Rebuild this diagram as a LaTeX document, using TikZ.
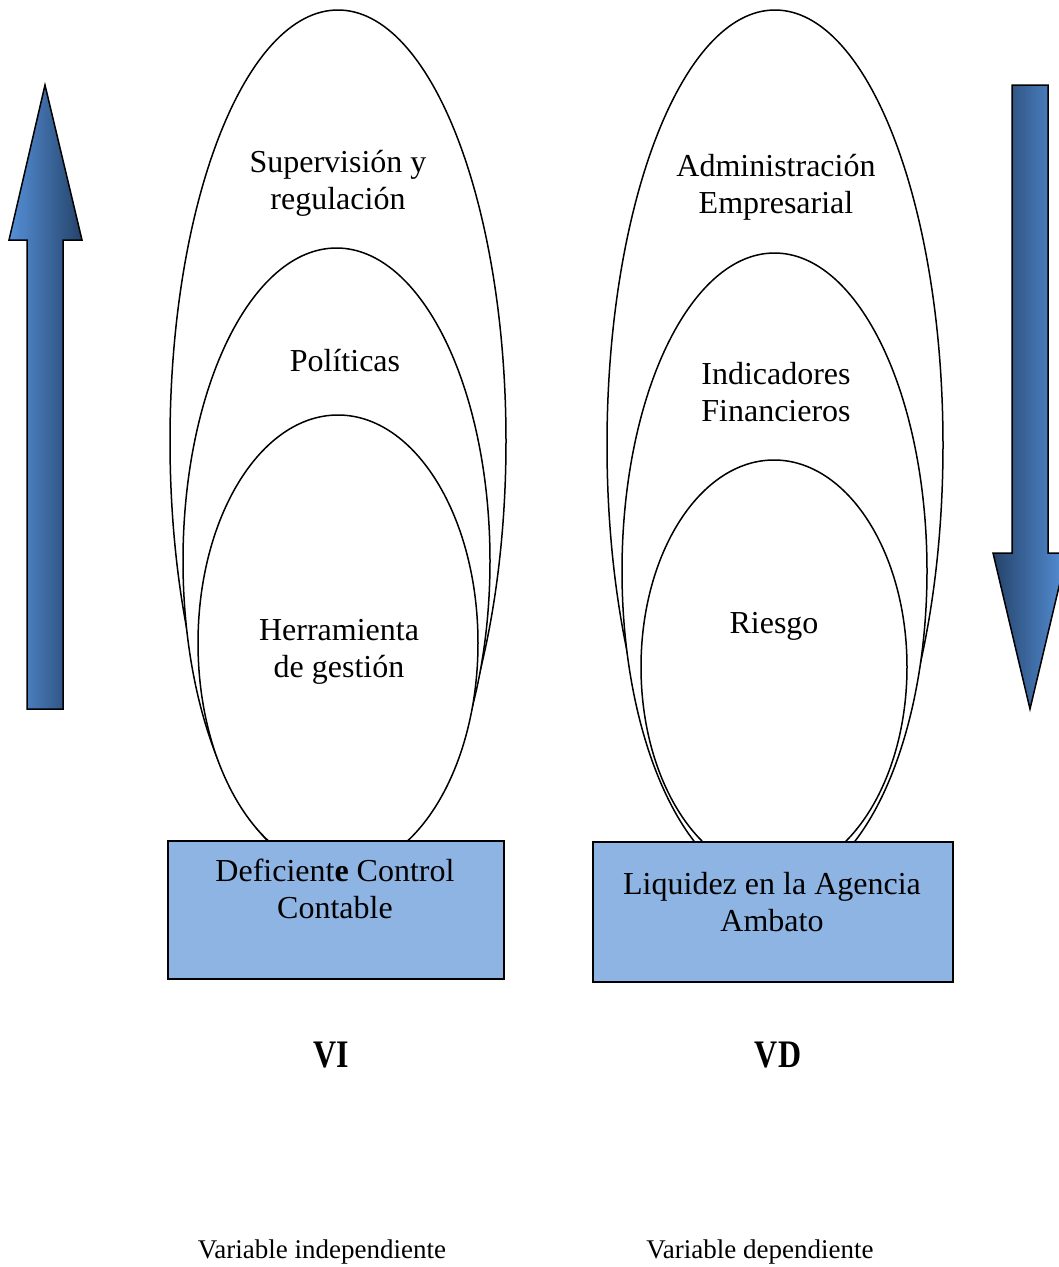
\documentclass[tikz,border=0pt]{standalone}
\usepackage{fontspec}
\setmainfont{Liberation Serif}
\usetikzlibrary{shapes.geometric}
\definecolor{boxblue}{HTML}{8EB4E3}
\definecolor{arrowlight}{HTML}{5590D8}
\definecolor{arrowdark}{HTML}{25436A}
\begin{document}
\begin{tikzpicture}[x=1pt,y=-1pt,
  oval/.style={ellipse,draw=black,line width=1.5pt,fill=white,inner sep=0pt},
  varbox/.style={draw=black,line width=1.7pt,fill=boxblue,inner sep=0pt,anchor=north west},
  label/.style={align=center,font=\fontsize{32}{37}\selectfont,inner sep=0pt},
  tag/.style={font=\bfseries\fontsize{39}{40}\selectfont,inner sep=0pt,xscale=0.82},
  caption/.style={font=\fontsize{27}{30}\selectfont,inner sep=0pt}]
\clip (0,0) rectangle (1059,1267);
\fill[white] (0,0) rectangle (1059,1267);

% direction arrows
\shadedraw[left color=arrowlight,right color=arrowdark,draw=black,line width=1.5pt]
  (27,709) -- (27,240) -- (9,240) -- (45,85) -- (82,240) -- (63,240) -- (63,709) -- cycle;
\shadedraw[left color=arrowdark,right color=arrowlight,draw=black,line width=1.5pt]
  (1012,85) -- (1048,85) -- (1048,553) -- (1067,553) -- (1030,709) -- (993,553) -- (1012,553) -- cycle;

% independent variable: nested ovals
\node[oval,minimum width=336pt,minimum height=862pt] (li1) at (338,441) {};
\node[oval,minimum width=307pt,minimum height=626pt] (li2) at (336.5,561) {};
\node[oval,minimum width=280pt,minimum height=456pt] (li3) at (338,643) {};

% dependent variable: nested ovals
\node[oval,minimum width=336pt,minimum height=870pt] (ri1) at (775,445) {};
\node[oval,minimum width=305pt,minimum height=636pt] (ri2) at (774.5,571) {};
\node[oval,minimum width=266pt,minimum height=414pt] (ri3) at (774,667) {};

% base boxes
\node[varbox,minimum width=336pt,minimum height=138pt] (lbox) at (167,840) {};
\node[varbox,minimum width=360pt,minimum height=140pt] (rbox) at (592,841) {};

% labels inside the ovals
\node[label] (t1) at (338,183) {Supervisión y\\regulación};
\node[label] (t2) at (345,361) {Políticas};
\node[label] (t3) at (339,652) {Herramienta\\de gestión};
\node[label] (t4) at (776,187) {Administración\\Empresarial};
\node[label] (t5) at (776,392) {Indicadores\\Financieros};
\node[label] (t6) at (774,626) {Riesgo};

% labels inside the boxes
\node[label] (t7) at (335,889) {Deficient\textbf{e} Control\\Contable};
\node[label] (t8) at (772,902) {Liquidez en la Agencia\\Ambato};

% variable tags
\node[tag] (vi) at (331,1055) {VI};
\node[tag] (vd) at (778,1055) {VD};

% captions
\node[caption] (c1) at (322,1252) {Variable independiente};
\node[caption] (c2) at (760,1252) {Variable dependiente};
\end{tikzpicture}
\end{document}
